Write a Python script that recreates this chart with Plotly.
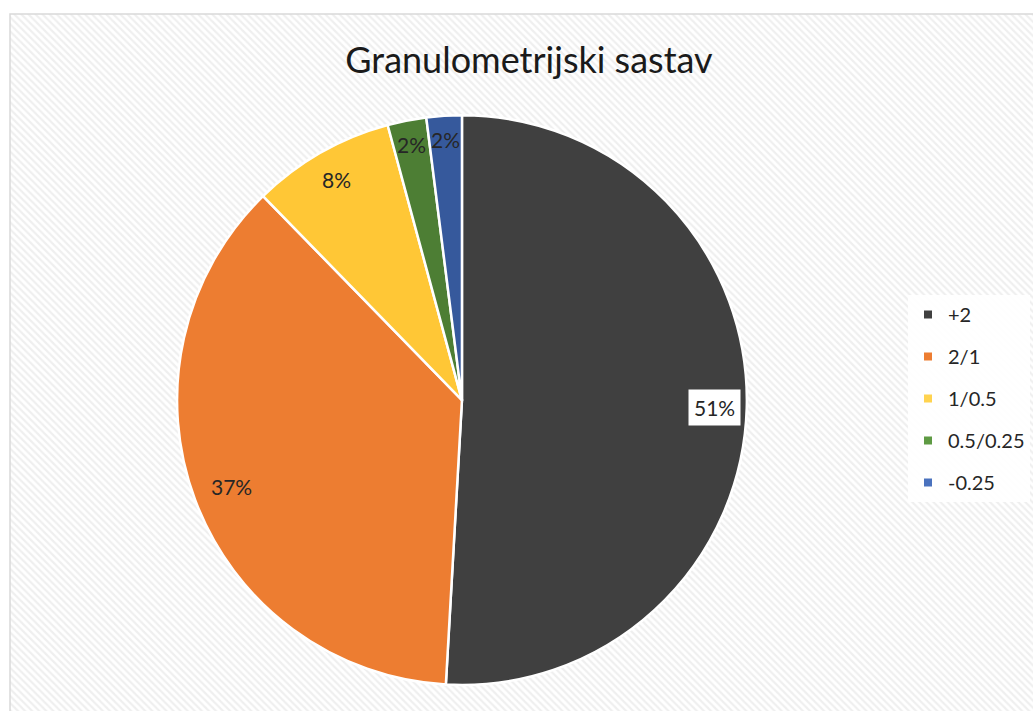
import numpy as np
import plotly.graph_objects as go

categories = ["+2", "2/1", "1/0.5", "0.5/0.25", "-0.25"]
values = [50.9, 36.8, 8.1, 2.2, 2.0]
pct_labels = ["51%", "37%", "8%", "2%", "2%"]
slice_colors = ["#404040", "#ED7D31", "#FFC736", "#4D7E34", "#36599C"]
legend_colors = ["#404040", "#ED7D31", "#FFD34F", "#5E9A43", "#4A72BE"]
title_text = "Granulometrijski sastav"

W, H = 1033, 711
FONT = "Lato"

dom_x = [0.1713, 0.7231]
dom_y = [0.0366, 0.838]
label_radius = [0.885, 0.865, 0.89, 0.915, 0.915]

fig = go.Figure()

# hatched chart-area background
fig.add_trace(go.Scatter(
    x=[10, W + 5, W + 5, 10, 10], y=[14, 14, H + 5, H + 5, 14],
    mode="lines", fill="toself", line=dict(width=0),
    fillcolor="white",
    fillpattern=dict(shape="\\", fgcolor="#e0e0e0", bgcolor="#ffffff", size=5, solidity=0.45),
    hoverinfo="skip", showlegend=False,
))

fig.add_trace(go.Pie(
    labels=categories, values=values, sort=False, direction="clockwise", rotation=0,
    marker=dict(colors=slice_colors, line=dict(color="white", width=2.5)),
    textinfo="none", showlegend=False, domain=dict(x=dom_x, y=dom_y),
    hoverinfo="label+percent",
))

for cat, col in zip(categories, legend_colors):
    fig.add_trace(go.Scatter(
        x=[None], y=[None], mode="markers", name=cat, legendgroup=cat,
        marker=dict(symbol="square", size=8, color=col), showlegend=True,
    ))

# percentage labels computed from the data
cx = (dom_x[0] + dom_x[1]) / 2 * W
cy = (1 - (dom_y[0] + dom_y[1]) / 2) * H
R = (dom_x[1] - dom_x[0]) * W / 2
vals = np.array(values)
cum = np.cumsum(vals) - vals / 2
mid = cum / vals.sum() * 2 * np.pi
for i, (lab, th, rf) in enumerate(zip(pct_labels, mid, label_radius)):
    px = cx + rf * R * np.sin(th)
    py = cy - rf * R * np.cos(th)
    fig.add_annotation(
        x=px / W, y=1 - py / H, xref="paper", yref="paper", text=lab, showarrow=False,
        xanchor="center", yanchor="middle",
        font=dict(family=FONT, size=21, color="#262626"),
        bgcolor="white" if i == 0 else None, borderpad=5 if i == 0 else 0,
    )

fig.add_shape(type="rect", xref="paper", yref="paper", x0=10 / W, y0=1 - 14 / H, x1=1.01, y1=-0.01,
              line=dict(color="#d9d9d9", width=1.5), layer="above")

fig.update_layout(
    width=W, height=H, margin=dict(l=0, r=0, t=0, b=0),
    paper_bgcolor="white", plot_bgcolor="rgba(0,0,0,0)",
    xaxis=dict(visible=False, range=[0, W], domain=[0, 1]),
    yaxis=dict(visible=False, range=[H, 0], domain=[0, 1]),
    title=dict(text=title_text, x=529 / W, xanchor="center", y=1 - 60 / H, yanchor="middle",
               font=dict(family=FONT, size=36, color="#1a1a1a")),
    legend=dict(x=908 / W, y=1 - 295 / H, xanchor="left", yanchor="top",
                bgcolor="rgba(255,255,255,0.9)", font=dict(family=FONT, size=20, color="#262626"),
                tracegroupgap=13),
    showlegend=True,
)

fig.write_html("out.html", config={"displayModeBar": False},
               post_script="document.body.style.margin='0';")
